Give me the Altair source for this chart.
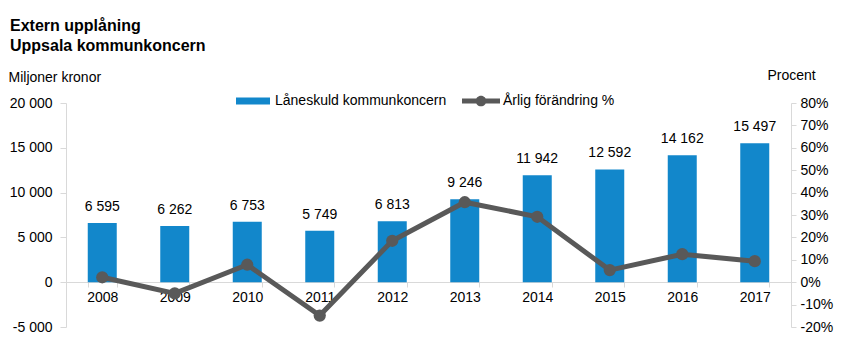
import altair as alt
import pandas as pd

years = ["2008", "2009", "2010", "2011", "2012", "2013", "2014", "2015", "2016", "2017"]
debt = [6595, 6262, 6753, 5749, 6813, 9246, 11942, 12592, 14162, 15497]
change = [0.022, -0.050, 0.078, -0.149, 0.185, 0.357, 0.292, 0.054, 0.125, 0.094]
left_ticks = [-5000, 0, 5000, 10000, 15000, 20000]
right_ticks = [-0.2, -0.1, 0.0, 0.1, 0.2, 0.3, 0.4, 0.5, 0.6, 0.7, 0.8]
series_bar = "Låneskuld kommunkoncern"
series_line = "Årlig förändring %"

df = pd.DataFrame({"year": years, "debt": debt, "change": change,
                   "s_bar": series_bar, "s_line": series_line})

FONT = "Liberation Sans"
BLUE = "#1287CB"
GRAY = "#595959"
AX = "#D9D9D9"
TXT = "#000000"

x = alt.X("year:N", sort=years,
          scale=alt.Scale(paddingInner=0.6, paddingOuter=0.3),
          axis=alt.Axis(title=None, orient="bottom", offset=-45, labelAngle=0,
                        tickBand="extent", domainColor=AX, tickColor=AX, tickSize=5,
                        labelPadding=3, labelFontSize=14, labelColor=TXT, labelFont=FONT))

y_left = alt.Y("debt:Q", scale=alt.Scale(domain=[-5000, 20000], nice=False, zero=False),
               axis=alt.Axis(values=left_ticks, format=",d", title="Miljoner kronor",
                             titleAngle=0, titleAlign="left", titleBaseline="middle",
                             titleX=-58, titleY=-26, titleFontWeight="normal",
                             titleFontSize=14, titleFont=FONT, titleColor=TXT,
                             labelFontSize=14, labelFont=FONT, labelColor=TXT,
                             domainColor=AX, tickColor=AX, tickSize=6, labelPadding=8,
                             grid=False))

y_right = alt.Y("change:Q", scale=alt.Scale(domain=[-0.2, 0.8], nice=False, zero=False),
                axis=alt.Axis(orient="right", values=right_ticks, format=".0%", title="Procent",
                              titleAngle=0, titleAlign="center", titleBaseline="middle",
                              titleX=0, titleY=-28, titleFontWeight="normal",
                              titleFontSize=14, titleFont=FONT, titleColor=TXT,
                              labelFontSize=14, labelFont=FONT, labelColor=TXT,
                              domainColor=AX, tickColor=AX, tickSize=5, labelPadding=4,
                              grid=False))

base = alt.Chart(df)

bars = base.mark_bar(color=BLUE).encode(
    x=x, y=y_left,
    fill=alt.Fill("s_bar:N", scale=alt.Scale(domain=[series_bar], range=[BLUE]),
                  legend=alt.Legend(title=None, orient="none", legendX=170, legendY=-19,
                                    padding=0, symbolType="M-1,-0.2H1V0.2H-1Z",
                                    symbolSize=1156, symbolStrokeWidth=0,
                                    labelFontSize=14, labelFont=FONT, labelColor=TXT,
                                    labelOffset=5, labelLimit=400)),
)

labels = base.mark_text(baseline="middle", dy=-16, fontSize=14, font=FONT, color=TXT).encode(
    x=x, y=y_left, text=alt.Text("debt:Q", format=",d"))

line = base.mark_line(strokeWidth=5).encode(
    x=x, y=y_right,
    stroke=alt.Stroke("s_line:N", scale=alt.Scale(domain=[series_line], range=[GRAY]),
                      legend=alt.Legend(title=None, orient="none", legendX=396, legendY=-21,
                                        padding=0,
                                        symbolType="M-1,-0.13H1V0.13H-1Z M0.28,0A0.28,0.28 0 1 1 -0.28,0A0.28,0.28 0 1 1 0.28,0Z",
                                        symbolSize=1444, symbolFillColor=GRAY,
                                        symbolStrokeWidth=0,
                                        labelFontSize=14, labelFont=FONT, labelColor=TXT,
                                        labelOffset=3, labelLimit=400)),
)

points = base.mark_circle(size=150, color=GRAY, opacity=1).encode(x=x, y=y_right)

left = alt.layer(bars, labels)
right = alt.layer(line, points)

chart = alt.layer(left, right).resolve_scale(y="independent").properties(
    width=725, height=224,
    title=alt.TitleParams(["Extern upplåning", "Uppsala kommunkoncern"], anchor="start",
                          fontSize=16, font=FONT, fontWeight="bold", color=TXT,
                          dx=-56, dy=-10, lineHeight=20, frame="group"),
    autosize=alt.AutoSizeParams(type="none"),
    padding={"left": 66, "top": 103, "right": 52, "bottom": 24},
).configure(
    locale=alt.Locale(number=alt.NumberLocale(decimal=",", thousands=" ", grouping=[3],
                                              currency=["", " kr"], minus="-")),
).configure_view(stroke=None).configure_axis(grid=False)

chart.save("out.html", embed_options={"renderer": "svg", "actions": False})
